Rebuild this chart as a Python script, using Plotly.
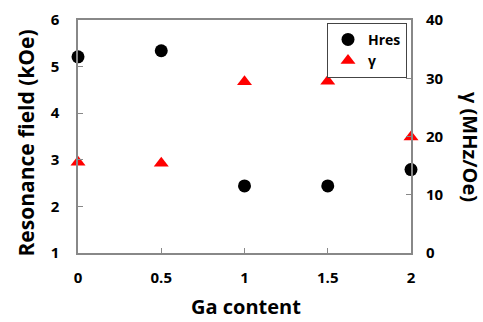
import plotly.graph_objects as go

ga = [0, 0.5, 1, 1.5, 2]
hres = [5.21, 5.34, 2.44, 2.44, 2.79]
gamma = [15.6, 15.4, 29.4, 29.5, 19.9]

FONT = "Open Sans"
fig = go.Figure()
fig.add_trace(go.Scatter(x=ga, y=hres, mode="markers", name="Hres",
                         marker=dict(symbol="circle", size=13, color="black"),
                         cliponaxis=False))
fig.add_trace(go.Scatter(x=ga, y=gamma, mode="markers", name="γ", yaxis="y2",
                         marker=dict(symbol="triangle-up", size=13, color="#ff0000"),
                         cliponaxis=False))

axcol = "#888888"
tf = dict(family=FONT, size=15, weight="bold", color="black")
fig.update_layout(
    width=483, height=322,
    margin=dict(l=78, r=72, t=20, b=69),
    plot_bgcolor="white", paper_bgcolor="white",
    showlegend=True,
    font=dict(family=FONT, color="black"),
    xaxis=dict(range=[0, 2], tickvals=[0, 0.5, 1, 1.5, 2], ticktext=["0", "0.5", "1", "1.5", "2"],
               showgrid=False, zeroline=False, showline=True, linecolor=axcol, linewidth=1.5,
               mirror=True, ticks="inside", ticklen=5, tickcolor=axcol, automargin=False,
               tickfont=tf, ticklabelstandoff=10),
    yaxis=dict(range=[1, 6], tickvals=[1, 2, 3, 4, 5, 6],
               showgrid=False, zeroline=False, showline=True, linecolor=axcol, linewidth=1.5,
               mirror=True, ticks="inside", ticklen=5, tickcolor=axcol, automargin=False,
               tickfont=tf, ticklabelstandoff=14),
    yaxis2=dict(range=[0, 40], tickvals=[0, 10, 20, 30, 40], overlaying="y", side="right",
                showgrid=False, zeroline=False, showline=False, automargin=False,
                ticks="inside", ticklen=5, tickcolor=axcol,
                tickfont=tf, ticklabelstandoff=14),
    legend=dict(x=0.988, y=0.988, xanchor="right", yanchor="top",
                bordercolor="#444444", borderwidth=1, bgcolor="white",
                font=dict(family=FONT, size=14, weight="bold"),
                itemwidth=30, tracegroupgap=0),
    annotations=[
        dict(text="<b>γ (MHz/Oe)</b>", textangle=90, xref="paper", yref="paper",
             x=1.177, y=0.455, xanchor="center", yanchor="middle",
             showarrow=False, font=dict(family=FONT, size=20)),
        dict(text="<b>Resonance field (kOe)</b>", textangle=-90, xref="paper", yref="paper",
             x=-0.156, y=0.47, xanchor="center", yanchor="middle",
             showarrow=False, font=dict(family=FONT, size=21)),
        dict(text="<b>Ga content</b>", xref="paper", yref="paper",
             x=0.505, y=-0.228, xanchor="center", yanchor="middle", borderpad=0,
             showarrow=False, font=dict(family=FONT, size=20)),
    ],
)
fig.write_html("out.html", config={"displayModeBar": False},
               post_script="document.body.style.margin='0';document.body.style.padding='0';")
